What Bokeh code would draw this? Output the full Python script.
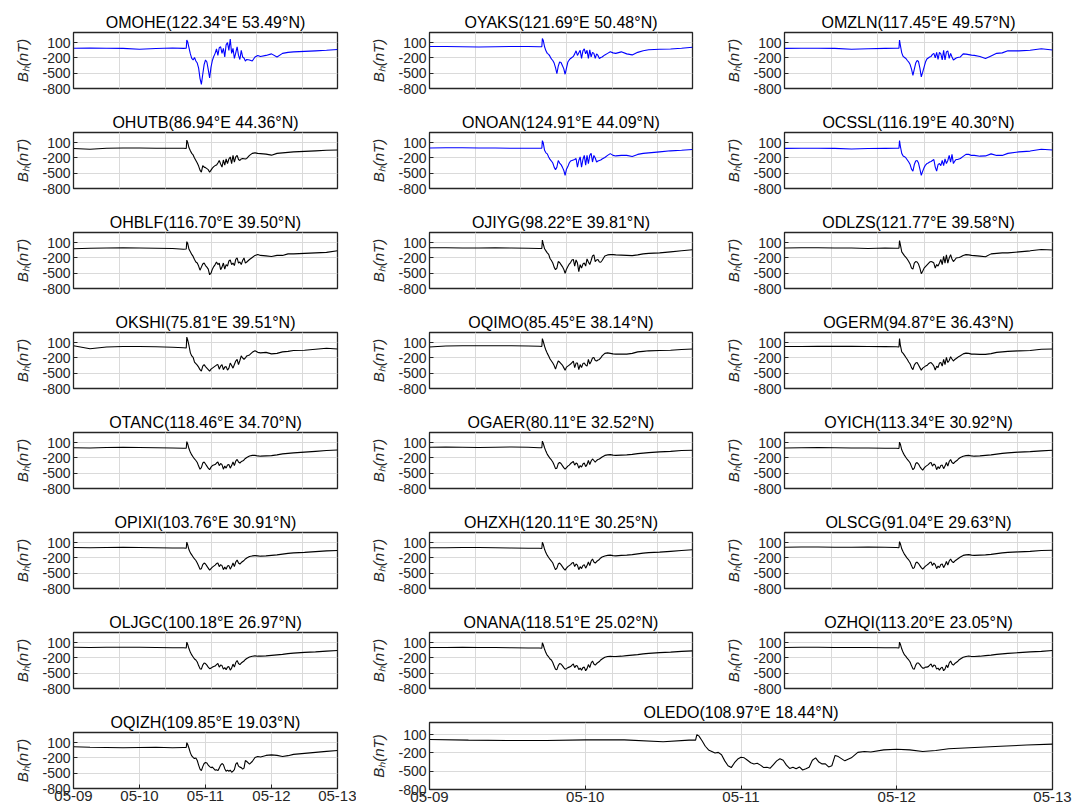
from bokeh.plotting import figure
from bokeh.layouts import column, row
from bokeh.models import Range1d, FixedTicker, Grid
from bokeh.embed import file_html
from bokeh.resources import INLINE

# time grid (hours from 2024-05-09 00:00 UT)
HOURS = [0, 6, 12, 18, 24, 30, 36, 40, 41.0, 41.2,
         41.5, 42, 42.5, 43, 43.5, 44, 44.5, 45, 45.5, 46, 46.5, 47, 47.5, 48, 48.5,
         49, 49.5, 50, 50.5, 51, 51.5, 52, 52.5, 53, 53.5, 54, 54.5, 55, 55.5, 56,
         56.5, 57, 57.5, 58, 58.5, 59, 59.5, 60, 60.5, 61, 61.5, 62, 62.5, 63,
         64, 65, 66, 67, 68, 70, 72, 74, 76, 78, 80, 84, 88, 92, 96]

DAY_TICKS = [0, 1440, 2880, 4320, 5760]
DAY_LABELS = ["05-09", "05-10", "05-11", "05-12", "05-13"]
MINUTE_TICKS = [1000, 2000, 3000, 4000, 5000]
Y_TICKS = [-800, -500, -200, 100]

OMOHE = [-10, -5, -8, -12, -30, -15, -5, -12, -10, 150,
         120, 0, -120, -210, -240, -190, -260, -300, -400, -600, -720, -520, -330, -240, -280,
         -430, -590, -380, -250, -170, -110, -20, -150, 0, 20, -110, -10, -180, 60, 100,
         -50, 170, -110, -10, -210, -100, 20, -150, -230, -50, -180, -200, -260, -230,
         -240, -260, -180, -150, -170, -150, -120, -180, -110, -90, -80, -70, -60, -50, -35]
OYAKS = [25, 25, 20, 15, 20, 25, 25, 20, 20, 180,
         150, 20, -60, -110, -130, -170, -220, -250, -300, -390, -510, -360, -280, -290, -350,
         -410, -520, -400, -280, -240, -210, -190, -170, -120, -60, -150, -100, -50, -210, -60,
         -20, -120, -50, -210, -40, -180, -90, -110, -210, -120, -150, -210, -190, -180,
         -140, -110, -80, -100, -110, -80, -120, -140, -90, -60, -40, -30, -25, -10, 10]
OMZLN = [-12, -10, -10, -12, -30, -18, -12, -10, -10, 150,
         50, -100, -170, -190, -210, -250, -280, -330, -420, -540, -420, -300, -250, -270, -400,
         -570, -480, -380, -280, -220, -200, -180, -170, -130, -110, -200, -90, -230, -90, -120,
         -240, -50, -240, -80, -60, -210, -110, -180, -240, -220, -200, -190, -185, -180,
         -120, -125, -135, -145, -150, -170, -210, -160, -110, -100, -60, -60, -50, -20, -45]
OHUTB = [-15, -30, -10, -5, -5, -8, -8, -10, -15, 150,
         110, 0, -60, -110, -140, -200, -250, -300, -360, -440, -480, -350, -380, -390, -410,
         -430, -480, -440, -400, -370, -350, -340, -300, -250, -320, -380, -240, -340, -220, -310,
         -220, -180, -310, -150, -280, -180, -150, -230, -250, -220, -210, -215, -220, -210,
         -150, -110, -100, -110, -115, -125, -145, -110, -100, -90, -80, -70, -60, -50, -45]
ONOAN = [-5, 0, 0, -5, -5, -10, -8, -8, -10, 140,
         100, -50, -100, -120, -180, -230, -260, -300, -380, -430, -380, -250, -300, -330, -380,
         -440, -540, -420, -370, -300, -260, -250, -240, -230, -210, -380, -250, -180, -380, -230,
         -150, -340, -150, -310, -150, -110, -280, -150, -200, -280, -260, -250, -240, -220,
         -190, -150, -115, -150, -160, -150, -150, -170, -130, -110, -100, -80, -60, -50, -35]
OCSSL = [-12, -10, -10, -12, -25, -15, -12, -10, -10, 140,
         30, -110, -160, -175, -200, -240, -280, -330, -420, -460, -330, -260, -250, -300, -420,
         -540, -460, -390, -340, -310, -300, -280, -270, -250, -230, -380, -460, -330, -310, -350,
         -250, -350, -220, -310, -250, -150, -280, -130, -310, -260, -230, -230, -220, -210,
         -170, -130, -130, -150, -150, -165, -160, -120, -150, -150, -110, -80, -65, -30, -45]
OHBLF = [-20, -10, -5, 0, -5, -10, -15, -30, -25, 120,
         90, -30, -80, -130, -170, -230, -280, -300, -360, -440, -380, -320, -300, -350, -380,
         -420, -530, -500, -420, -370, -330, -280, -330, -300, -430, -380, -300, -420, -330, -360,
         -260, -240, -330, -300, -350, -230, -200, -300, -280, -330, -250, -200, -300, -280,
         -230, -190, -150, -130, -150, -160, -170, -150, -150, -120, -120, -110, -100, -90, -60]
OJIYG = [0, 0, -5, -5, 0, -5, -10, -15, -15, 150,
         80, -20, -60, -100, -130, -210, -250, -300, -380, -430, -400, -270, -290, -330, -370,
         -420, -500, -420, -370, -320, -290, -240, -230, -360, -240, -300, -470, -330, -400, -320,
         -300, -360, -220, -280, -330, -250, -160, -140, -270, -240, -230, -280, -285, -250,
         -160, -140, -135, -135, -140, -145, -150, -155, -140, -120, -110, -100, -80, -60, -40]
ODLZS = [-5, 0, 0, -5, -5, -15, -5, -8, -10, 140,
         60, -80, -120, -160, -190, -225, -270, -320, -400, -420, -300, -270, -280, -320, -400,
         -510, -460, -400, -370, -340, -310, -280, -270, -280, -300, -400, -330, -360, -300, -230,
         -330, -170, -300, -140, -300, -200, -135, -220, -270, -240, -200, -195, -190, -180,
         -150, -135, -140, -150, -155, -165, -175, -120, -110, -100, -100, -80, -60, -35, -45]
OKSHI = [40, -20, 15, 25, 25, 20, 10, 0, -5, 210,
         160, 40, -100, -160, -190, -280, -310, -340, -380, -430, -460, -360, -330, -370, -400,
         -430, -460, -420, -400, -380, -360, -340, -330, -420, -360, -330, -430, -380, -370, -440,
         -400, -300, -350, -400, -330, -260, -230, -330, -250, -160, -200, -230, -200, -160,
         -140, -90, -60, -90, -100, -90, -120, -110, -80, -70, -55, -50, -30, -10, -25]
OQIMO = [15, 35, 40, 40, 40, 40, 35, 30, 25, 180,
         130, 30, -50, -110, -160, -220, -260, -300, -350, -420, -330, -260, -280, -310, -340,
         -390, -440, -380, -360, -340, -320, -290, -260, -390, -300, -300, -430, -330, -390, -310,
         -300, -340, -360, -230, -320, -270, -200, -190, -250, -260, -240, -230, -200, -160,
         -110, -100, -110, -120, -125, -125, -125, -110, -80, -70, -60, -55, -50, -35, -25]
OGERM = [25, 25, 28, 30, 28, 25, 22, 20, 15, 180,
         50, -80, -110, -150, -190, -230, -280, -320, -390, -430, -340, -300, -290, -340, -390,
         -440, -400, -380, -360, -350, -320, -300, -290, -320, -360, -440, -360, -390, -300, -290,
         -360, -230, -330, -190, -290, -250, -175, -220, -260, -230, -210, -190, -170, -155,
         -120, -105, -110, -125, -125, -130, -130, -115, -90, -80, -70, -60, -55, -30, -25]
OTANC = [0, -5, 5, 10, 5, 0, -5, -10, -10, 120,
         80, -20, -90, -140, -180, -220, -250, -290, -360, -420, -390, -300, -280, -320, -360,
         -400, -430, -380, -350, -340, -330, -300, -280, -350, -310, -330, -420, -360, -400, -340,
         -330, -400, -350, -280, -350, -260, -230, -280, -300, -270, -260, -240, -210, -190,
         -160, -150, -150, -160, -165, -160, -155, -140, -120, -110, -100, -85, -70, -55, -45]
OGAER = [10, 15, 10, 5, 10, 15, 10, 0, 0, 130,
         90, 0, -70, -130, -170, -210, -240, -280, -340, -410, -400, -310, -290, -310, -350,
         -390, -420, -390, -360, -340, -310, -290, -270, -340, -300, -320, -400, -350, -380, -320,
         -300, -370, -330, -250, -330, -260, -220, -250, -280, -250, -230, -220, -200, -180,
         -150, -140, -135, -145, -150, -145, -140, -130, -115, -105, -95, -80, -70, -55, -50]
OYICH = [-5, 0, 5, 0, -5, -5, -10, -10, -15, 110,
         70, -40, -100, -150, -190, -230, -260, -300, -370, -430, -400, -310, -290, -320, -370,
         -410, -440, -400, -370, -350, -330, -300, -290, -360, -320, -340, -430, -370, -410, -350,
         -340, -410, -360, -290, -360, -270, -230, -290, -310, -280, -260, -240, -210, -190,
         -165, -155, -150, -160, -165, -160, -150, -140, -125, -110, -100, -85, -75, -60, -50]
OPIXI = [5, 0, 5, 10, 5, 0, -5, -5, -10, 110,
         60, -40, -100, -140, -180, -220, -250, -300, -360, -420, -410, -330, -300, -320, -360,
         -400, -440, -410, -380, -360, -340, -310, -300, -370, -330, -350, -430, -380, -420, -360,
         -350, -420, -370, -300, -370, -280, -240, -300, -320, -290, -270, -250, -220, -200,
         -170, -160, -155, -160, -165, -160, -150, -140, -125, -110, -100, -90, -75, -60, -55]
OHZXH = [0, 0, 5, 5, 0, -5, -10, -10, -15, 110,
         70, -30, -100, -150, -190, -230, -260, -300, -370, -430, -400, -320, -300, -330, -370,
         -410, -440, -400, -370, -350, -330, -300, -290, -370, -320, -340, -430, -370, -410, -350,
         -330, -400, -350, -280, -350, -260, -220, -280, -300, -270, -250, -230, -200, -180,
         -160, -150, -145, -155, -160, -150, -145, -135, -120, -105, -95, -85, -70, -55, -40]
OLSCG = [10, 15, 15, 10, 10, 15, 10, 5, 0, 120,
         80, -20, -80, -130, -170, -210, -240, -280, -350, -410, -390, -300, -280, -310, -350,
         -390, -420, -390, -360, -340, -320, -290, -280, -350, -300, -330, -410, -360, -390, -330,
         -320, -390, -340, -270, -340, -260, -220, -270, -290, -260, -240, -220, -200, -180,
         -150, -140, -135, -145, -150, -145, -140, -130, -115, -100, -90, -80, -70, -55, -50]
OLJGC = [10, 5, 10, 10, 10, 5, 0, 0, -5, 110,
         70, -20, -90, -140, -180, -220, -240, -280, -350, -410, -420, -340, -300, -310, -340,
         -380, -410, -400, -380, -370, -360, -330, -310, -380, -340, -350, -420, -390, -430, -380,
         -370, -440, -400, -320, -380, -290, -250, -310, -330, -300, -280, -260, -230, -210,
         -180, -165, -160, -165, -165, -160, -150, -140, -130, -115, -105, -90, -80, -65, -55]
ONANA = [5, 5, 10, 5, 5, 0, -5, -5, -10, 100,
         60, -30, -100, -150, -180, -220, -240, -290, -360, -420, -430, -350, -310, -320, -350,
         -390, -420, -410, -390, -380, -370, -340, -320, -390, -350, -360, -430, -400, -440, -390,
         -380, -450, -410, -330, -390, -300, -260, -320, -340, -310, -290, -270, -240, -220,
         -185, -170, -165, -170, -170, -165, -155, -145, -135, -120, -110, -95, -85, -70, -60]
OZHQI = [5, 10, 10, 5, 5, 5, 0, 0, -5, 110,
         70, -20, -90, -140, -170, -210, -240, -280, -350, -410, -420, -340, -300, -300, -330,
         -370, -400, -400, -380, -380, -370, -340, -320, -380, -340, -350, -420, -400, -440, -400,
         -380, -450, -420, -340, -390, -300, -260, -320, -340, -310, -290, -270, -240, -220,
         -185, -170, -160, -170, -170, -165, -155, -145, -130, -120, -110, -95, -80, -70, -55]
OQIZH = [20, 10, 5, 0, 5, 10, 0, 5, 5, 100,
         70, -10, -100, -160, -190, -210, -200, -250, -340, -420, -450, -370, -310, -290, -300,
         -340, -370, -390, -380, -410, -440, -430, -450, -400, -340, -310, -330, -410, -460, -440,
         -460, -440, -480, -460, -430, -320, -290, -360, -380, -390, -420, -400, -250, -270,
         -320, -270, -190, -170, -180, -150, -140, -150, -170, -155, -130, -110, -90, -70, -55]
OLEDO = [20, 10, 5, 5, 15, 15, -15, 10, 10, 100,
         80, 0, -90, -150, -175, -200, -190, -230, -330, -410, -440, -360, -300, -270, -280,
         -320, -360, -380, -370, -400, -440, -435, -450, -390, -330, -295, -320, -400, -455, -435,
         -460, -430, -480, -460, -435, -320, -280, -350, -380, -380, -430, -410, -240, -260,
         -330, -280, -190, -175, -185, -150, -140, -150, -175, -160, -130, -110, -90, -70, -55]

BLUE = "#0000ff"
BLACK = "#000000"
COLS = [
    [("OMOHE(122.34°E 53.49°N)", OMOHE, BLUE), ("OHUTB(86.94°E 44.36°N)", OHUTB, BLACK),
     ("OHBLF(116.70°E 39.50°N)", OHBLF, BLACK), ("OKSHI(75.81°E 39.51°N)", OKSHI, BLACK),
     ("OTANC(118.46°E 34.70°N)", OTANC, BLACK), ("OPIXI(103.76°E 30.91°N)", OPIXI, BLACK),
     ("OLJGC(100.18°E 26.97°N)", OLJGC, BLACK)],
    [("OYAKS(121.69°E 50.48°N)", OYAKS, BLUE), ("ONOAN(124.91°E 44.09°N)", ONOAN, BLUE),
     ("OJIYG(98.22°E 39.81°N)", OJIYG, BLACK), ("OQIMO(85.45°E 38.14°N)", OQIMO, BLACK),
     ("OGAER(80.11°E 32.52°N)", OGAER, BLACK), ("OHZXH(120.11°E 30.25°N)", OHZXH, BLACK),
     ("ONANA(118.51°E 25.02°N)", ONANA, BLACK)],
    [("OMZLN(117.45°E 49.57°N)", OMZLN, BLUE), ("OCSSL(116.19°E 40.30°N)", OCSSL, BLUE),
     ("ODLZS(121.77°E 39.58°N)", ODLZS, BLACK), ("OGERM(94.87°E 36.43°N)", OGERM, BLACK),
     ("OYICH(113.34°E 30.92°N)", OYICH, BLACK), ("OLSCG(91.04°E 29.63°N)", OLSCG, BLACK),
     ("OZHQI(113.20°E 23.05°N)", OZHQI, BLACK)],
]

FONT = "Liberation Sans"
TXT = "#262626"
GRIDC = "#dadada"
COL_W = [(356, 19), (355, 19), (362, 21)]  # (figure width, right border); left border 73


def panel(title, vals, color, width, height, right, top, bottom, dated):
    assert len(vals) == len(HOURS), title
    p = figure(width=width, height=height, x_range=Range1d(0, 5760), y_range=Range1d(-800, 300),
               output_backend="svg", toolbar_location=None,
               x_axis_location="below" if dated else None,
               min_border_left=73, min_border_right=right, min_border_top=top, min_border_bottom=bottom)
    p.background_fill_color = "white"
    p.border_fill_color = "white"
    p.outline_line_color = TXT
    p.outline_line_width = 1.3
    p.title.text = title
    p.title.align = "center"
    p.title.text_font = FONT
    p.title.text_font_size = "16px"
    p.title.text_font_style = "normal"
    p.title.text_color = "black"
    p.title.standoff = 3

    ya = p.yaxis[0]
    ya.ticker = FixedTicker(ticks=Y_TICKS)
    ya.major_label_overrides = {t: str(t) for t in Y_TICKS}
    ya.axis_label = "Bₕ(nT)"
    ya.axis_label_text_font = FONT
    ya.axis_label_text_font_style = "italic"
    ya.axis_label_text_font_size = "15px"
    ya.axis_label_text_color = TXT
    ya.axis_label_standoff = 8
    ya.major_label_text_font = FONT
    ya.major_label_text_font_size = "14px"
    ya.major_label_text_color = TXT
    ya.major_label_standoff = 3
    axes = [ya]

    if dated:
        xa = p.xaxis[0]
        xa.ticker = FixedTicker(ticks=DAY_TICKS)
        xa.major_label_overrides = dict(zip(DAY_TICKS, DAY_LABELS))
        xa.major_label_text_font = FONT
        xa.major_label_text_font_size = "15px"
        xa.major_label_text_color = TXT
        xa.major_label_standoff = 2
        axes.append(xa)
    else:
        p.add_layout(Grid(dimension=0, ticker=FixedTicker(ticks=MINUTE_TICKS)))
    for ax in axes:
        ax.axis_line_color = TXT
        ax.major_tick_line_color = TXT
        ax.major_tick_in = 4
        ax.major_tick_out = 0
        ax.minor_tick_line_color = None
    for g in p.renderers + p.center:
        if isinstance(g, Grid):
            g.grid_line_color = GRIDC
            g.grid_line_width = 1

    x = [h * 60 for h in HOURS]
    p.line(x, vals, line_color=color, line_width=1.1)
    return p


cols = []
for ci, (entries, (w, right)) in enumerate(zip(COLS, COL_W)):
    cols.append([panel(t, v, c, w, 100, right, 32, 12, False) for (t, v, c) in entries])

p_qizh = panel("OQIZH(109.85°E 19.03°N)", OQIZH, BLACK, 356, 108, 19, 32, 20, True)
p_ledo = panel("OLEDO(108.97°E 18.44°N)", OLEDO, BLACK, 717, 108, 21, 19, 19, True)

left = column(*cols[0], p_qizh, spacing=0)
right_rows = [row(a, b, spacing=0) for a, b in zip(cols[1], cols[2])]
right = column(*right_rows, p_ledo, spacing=0)
layout = row(left, right, spacing=0)
open("out.html", "w").write(file_html(layout, INLINE))
